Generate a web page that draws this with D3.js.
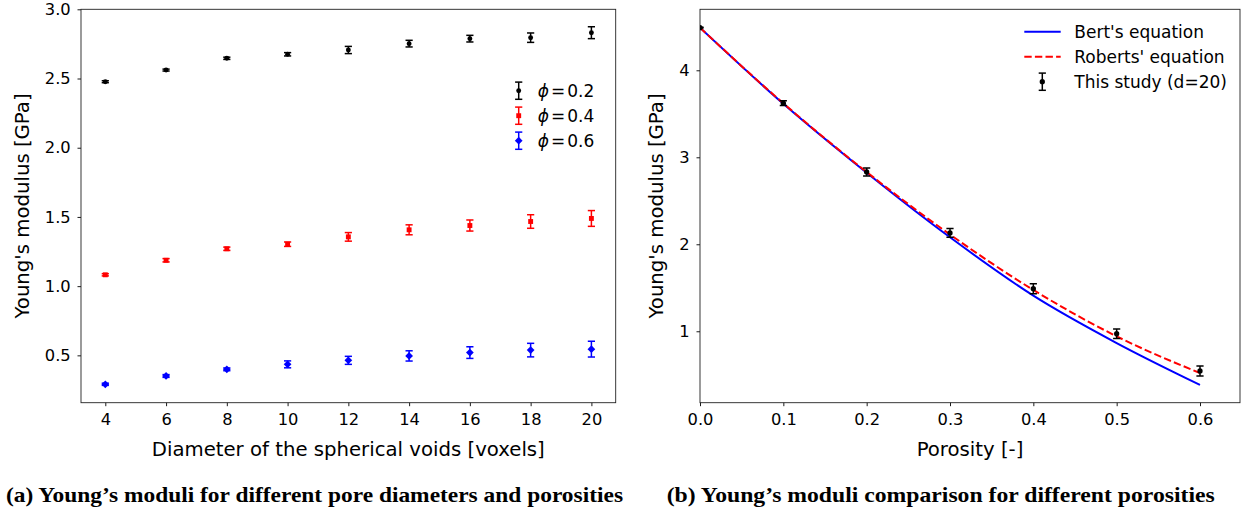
<!DOCTYPE html>
<html>
<head>
<meta charset="utf-8">
<script src="https://cdn.jsdelivr.net/npm/d3@7"></script>
<style>
  body { margin: 0; background: #fff; }
  svg text { font-family: 'DejaVu Sans', sans-serif; fill: #000; }
</style>
</head>
<body>
<svg id="chart" width="1241" height="511"></svg>
<script>
// (a) modulus vs pore diameter, one series per porosity
const diameters = [4, 6, 8, 10, 12, 14, 16, 18, 20]
const e02 = [2.477, 2.561, 2.646, 2.675, 2.706, 2.752, 2.788, 2.795, 2.831]
const err02 = [0.007, 0.007, 0.008, 0.012, 0.026, 0.024, 0.024, 0.034, 0.043]
const e04 = [1.082, 1.187, 1.270, 1.303, 1.356, 1.407, 1.438, 1.467, 1.489]
const err04 = [0.008, 0.012, 0.012, 0.016, 0.031, 0.036, 0.040, 0.049, 0.057]
const e06 = [0.291, 0.351, 0.399, 0.435, 0.464, 0.496, 0.520, 0.538, 0.545]
const err06 = [0.008, 0.010, 0.010, 0.025, 0.029, 0.037, 0.042, 0.049, 0.057]
const seriesA = ['0.2', '0.4', '0.6']
const ticksA_x = [4, 6, 8, 10, 12, 14, 16, 18, 20]
const ticksA_y = [0.5, 1.0, 1.5, 2.0, 2.5, 3.0]

// (b) modulus vs porosity
const porosity = [0, 0.1, 0.2, 0.3, 0.4, 0.5, 0.6]
const study = [4.49, 3.622, 2.831, 2.131, 1.489, 0.972, 0.544]
const studyErr = [0.004, 0.028, 0.045, 0.05, 0.057, 0.055, 0.058]
const bert = [4.49, 3.615, 2.822, 2.08, 1.41, 0.865, 0.384]
const roberts = [4.49, 3.62, 2.83, 2.112, 1.475, 0.942, 0.52]
const seriesB = ["Bert's equation", "Roberts' equation", 'This study (d=20)']
const ticksB_x = [0, 0.1, 0.2, 0.3, 0.4, 0.5, 0.6]
const ticksB_y = [1, 2, 3, 4]

const svg = d3.select('#chart')
svg.append('rect').attr('width', 1241).attr('height', 511).attr('fill', '#fff')

const tickFont = 16.3
const labelFont = 19.7
const legendFont = 17

// custom rotated-square marker (matplotlib 'D')
const diamond = {
  draw: function (ctx, size) {
    const r = Math.sqrt(size / 2)
    ctx.moveTo(0, -r); ctx.lineTo(r, 0); ctx.lineTo(0, r); ctx.lineTo(-r, 0); ctx.closePath()
  }
}

function frame(g, x, y, xt, yt, xf, yf, id) {
  const [x0, x1] = x.range()
  const [y0, y1] = y.range()
  g.append('clipPath').attr('id', id).append('rect')
    .attr('x', x0).attr('y', y1).attr('width', x1 - x0).attr('height', y0 - y1)
  const ax = g.append('g').attr('transform', 'translate(0,' + y0 + ')')
    .call(d3.axisBottom(x).tickValues(xt).tickFormat(xf).tickSize(3.5).tickPadding(7.2))
  const ay = g.append('g').attr('transform', 'translate(' + x0 + ',0)')
    .call(d3.axisLeft(y).tickValues(yt).tickFormat(yf).tickSize(3.5).tickPadding(6.8))
  ;[ax, ay].forEach(function (a) {
    a.attr('font-size', tickFont).attr('font-family', null)
    a.select('.domain').remove()
    a.selectAll('line').attr('stroke', '#000').attr('stroke-width', 0.9)
  })
  g.append('rect').attr('x', x0).attr('y', y1).attr('width', x1 - x0).attr('height', y0 - y1)
    .attr('fill', 'none').attr('stroke', '#222').attr('stroke-width', 0.9)
}

function errbars(g, xs, ys, es, x, y, color, shape, size) {
  const grp = g.append('g')
  xs.forEach(function (d, i) {
    const cx = x(d)
    const top = y(ys[i] + es[i])
    const bot = y(ys[i] - es[i])
    grp.append('line').attr('x1', cx).attr('x2', cx).attr('y1', top).attr('y2', bot)
      .attr('stroke', color).attr('stroke-width', 1.5)
    ;[top, bot].forEach(function (cy) {
      grp.append('line').attr('x1', cx - 3.6).attr('x2', cx + 3.6).attr('y1', cy).attr('y2', cy)
        .attr('stroke', color).attr('stroke-width', 1.5)
    })
    grp.append('path').attr('d', d3.symbol().type(shape).size(size)())
      .attr('transform', 'translate(' + cx + ',' + y(ys[i]) + ')').attr('fill', color)
  })
  return grp
}

function legendErr(g, cx, cy, color, shape, size) {
  g.append('line').attr('x1', cx).attr('x2', cx).attr('y1', cy - 8.6).attr('y2', cy + 8.6)
    .attr('stroke', color).attr('stroke-width', 1.5)
  ;[cy - 8.6, cy + 8.6].forEach(function (yy) {
    g.append('line').attr('x1', cx - 3.6).attr('x2', cx + 3.6).attr('y1', yy).attr('y2', yy)
      .attr('stroke', color).attr('stroke-width', 1.5)
  })
  g.append('path').attr('d', d3.symbol().type(shape).size(size)())
    .attr('transform', 'translate(' + cx + ',' + cy + ')').attr('fill', color)
}

// ---------- panel (a) ----------
const xa = d3.scaleLinear().domain([3.2, 20.8]).range([81, 615.7])
const ya = d3.scaleLinear().domain([0.158, 3.0]).range([402.7, 9.3])
const ga = svg.append('g')
frame(ga, xa, ya, ticksA_x, ticksA_y, d3.format('d'), d3.format('.1f'), 'clipA')

const colorsA = ['#000', '#f00', '#00f']
const shapesA = [d3.symbolCircle, d3.symbolSquare, diamond]
const sizesA = [19, 24, 30]
errbars(ga, diameters, e02, err02, xa, ya, colorsA[0], shapesA[0], sizesA[0])
errbars(ga, diameters, e04, err04, xa, ya, colorsA[1], shapesA[1], sizesA[1])
errbars(ga, diameters, e06, err06, xa, ya, colorsA[2], shapesA[2], sizesA[2])

seriesA.forEach(function (s, i) {
  const cy = 90.7 + i * 25
  legendErr(ga, 518.7, cy, colorsA[i], shapesA[i], sizesA[i])
  const t = ga.append('text').attr('x', 537.7).attr('y', cy + 5.8).attr('font-size', legendFont)
  t.append('tspan').attr('font-style', 'italic').text('\u03D5')
  t.append('tspan').attr('dx', 2).text('=')
  t.append('tspan').attr('dx', 2).text(s)
})

ga.append('text').attr('transform', 'translate(29,206) rotate(-90)')
  .attr('text-anchor', 'middle').attr('font-size', labelFont).text("Young's modulus [GPa]")
ga.append('text').attr('x', 348.3).attr('y', 456).attr('text-anchor', 'middle')
  .attr('font-size', labelFont).text('Diameter of the spherical voids [voxels]')

// ---------- panel (b) ----------
const xb = d3.scaleLinear().domain([0, 0.648]).range([700, 1240])
const yb = d3.scaleLinear().domain([0.179, 4.701]).range([402.7, 9.3])
const gb = svg.append('g')
frame(gb, xb, yb, ticksB_x, ticksB_y, d3.format('.1f'), d3.format('d'), 'clipB')

const line = d3.line().x(function (d) { return xb(d[0]) }).y(function (d) { return yb(d[1]) })
  .curve(d3.curveMonotoneX)
const plotB = gb.append('g').attr('clip-path', 'url(#clipB)')
plotB.append('path').attr('d', line(d3.zip(porosity, bert)))
  .attr('fill', 'none').attr('stroke', '#00f').attr('stroke-width', 2)
plotB.append('path').attr('d', line(d3.zip(porosity, roberts)))
  .attr('fill', 'none').attr('stroke', '#f00').attr('stroke-width', 2).attr('stroke-dasharray', '7.4,3.2')
errbars(plotB, porosity, study, studyErr, xb, yb, '#000', d3.symbolCircle, 22)

// legend (b)
gb.append('line').attr('x1', 1024.3).attr('x2', 1060.7).attr('y1', 31.7).attr('y2', 31.7)
  .attr('stroke', '#00f').attr('stroke-width', 2)
gb.append('line').attr('x1', 1024.3).attr('x2', 1060.7).attr('y1', 56.7).attr('y2', 56.7)
  .attr('stroke', '#f00').attr('stroke-width', 2).attr('stroke-dasharray', '7.4,3.2')
legendErr(gb, 1042.3, 81.7, '#000', d3.symbolCircle, 22)
seriesB.forEach(function (s, i) {
  gb.append('text').attr('x', 1074.3).attr('y', 31.7 + i * 25 + 5.8).attr('font-size', legendFont).text(s)
})

gb.append('text').attr('transform', 'translate(663,206) rotate(-90)')
  .attr('text-anchor', 'middle').attr('font-size', labelFont).text("Young's modulus [GPa]")
gb.append('text').attr('x', 970).attr('y', 456).attr('text-anchor', 'middle')
  .attr('font-size', labelFont).text('Porosity [-]')

// captions
const caps = [
  { x: 6, w: 617, t: '(a) Young\u2019s moduli for different pore diameters and porosities' },
  { x: 666.7, w: 548, t: '(b) Young\u2019s moduli comparison for different porosities' }
]
caps.forEach(function (c) {
  svg.append('text').attr('x', c.x).attr('y', 501.5)
    .style('font-family', "'Liberation Serif', 'Times New Roman', serif")
    .attr('font-weight', 'bold').attr('font-size', 22)
    .attr('textLength', c.w).attr('lengthAdjust', 'spacingAndGlyphs').text(c.t)
})
</script>
</body>
</html>
